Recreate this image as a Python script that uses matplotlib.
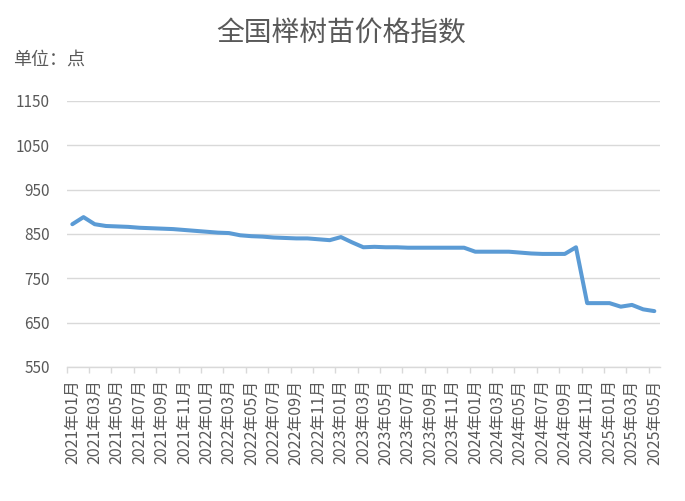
import numpy as np
import matplotlib
matplotlib.use('Agg')
import matplotlib.pyplot as plt

plt.rcParams['font.family'] = ['Noto Sans CJK SC', 'DejaVu Sans']

# 月份 2021-01 .. 2025-05
months = [f'{y}年{m:02d}月' for y in range(2021, 2026) for m in range(1, 13)][:53]
index_values = [
    872, 888, 872, 868, 867, 866, 864, 863, 862, 861, 859, 857,   # 2021
    855, 853, 852, 847, 845, 844, 842, 841, 840, 840, 838, 836,   # 2022
    843, 831, 820, 821, 820, 820, 819, 819, 819, 819, 819, 819,   # 2023
    810, 810, 810, 810, 808, 806, 805, 805, 805, 820, 694, 694,   # 2024
    694, 686, 690, 680, 676,                                      # 2025
]
y_ticks = [550, 650, 750, 850, 950, 1050, 1150]

text_c = '#595959'
grid_c = '#D9D9D9'
line_c = '#5B9BD5'

fig = plt.figure(figsize=(6.85, 5.01), dpi=100)
ax = fig.add_axes([0.0974, 0.2675, 0.866, 0.531])

x = np.arange(len(months))
ax.plot(x, index_values, color=line_c, lw=2.9, solid_joinstyle='round', solid_capstyle='round')

ax.set_xlim(-0.5, len(months) - 0.5)
ax.set_ylim(550, 1150)
ax.set_yticks(y_ticks)
ax.set_yticklabels([str(v) for v in y_ticks], fontsize=11, color=text_c)
ax.yaxis.grid(True, color=grid_c, lw=1)
ax.set_axisbelow(True)
ax.tick_params(axis='y', length=0, pad=12)

ax.set_xticks(x[::2])
ax.set_xticklabels(months[::2], rotation=90, fontsize=11.5, color=text_c)
ax.set_xticks(np.arange(-0.5, len(months) - 1, 2), minor=True)
ax.tick_params(axis='x', which='major', length=0, pad=9)
ax.tick_params(axis='x', which='minor', length=4, color=grid_c, width=1)

for s in ['top', 'right', 'left']:
    ax.spines[s].set_visible(False)
ax.spines['bottom'].set_color(grid_c)
ax.spines['bottom'].set_linewidth(1)

fig.text(0.498, 0.935, '全国榉树苗价格指数', ha='center', va='center', fontsize=20, color=text_c)
fig.text(0.019, 0.88, '单位：点', ha='left', va='center', fontsize=13, color=text_c)

plt.savefig('out.png', dpi=100)
plt.close()
